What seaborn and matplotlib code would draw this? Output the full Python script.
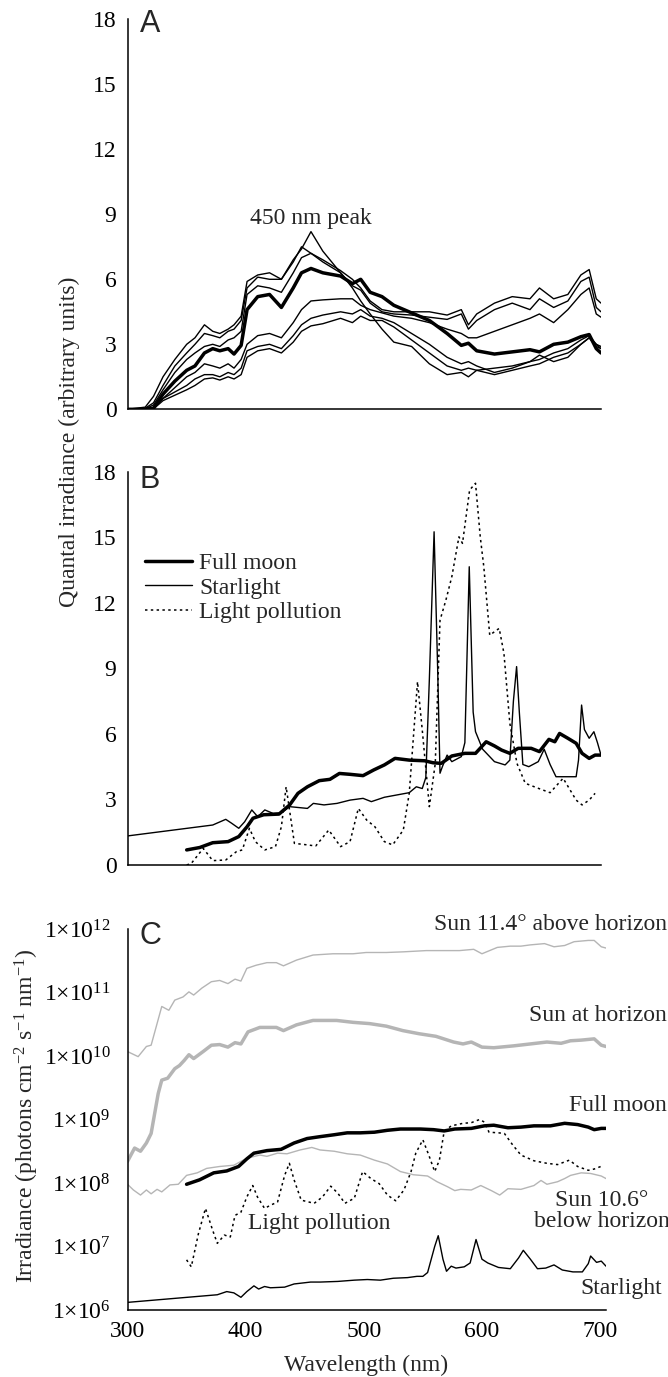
import numpy as np
import matplotlib
matplotlib.use('Agg')
import matplotlib.pyplot as plt
import seaborn as sns

# ---------------- Panel A: spectra (arbitrary units) ----------------
wl_a = [300, 315, 322, 330, 340, 350, 357, 365, 372, 378, 385, 390, 396, 401, 410, 420,
        430, 440, 447, 455, 465, 480, 490, 497, 505, 515, 525, 540, 555, 570, 582, 588,
        595, 610, 625, 640, 648, 660, 672, 683, 690, 696, 700]
mean_a = [0, 0, 0.05, 0.7, 1.3, 1.8, 2.0, 2.6, 2.8, 2.7, 2.8, 2.55, 2.95, 4.6, 5.2, 5.3,
          4.7, 5.6, 6.3, 6.5, 6.3, 6.15, 5.8, 6.0, 5.4, 5.2, 4.8, 4.45, 4.1, 3.5, 2.95, 3.05,
          2.7, 2.55, 2.65, 2.75, 2.65, 3.0, 3.1, 3.35, 3.45, 2.8, 2.6]
curve1_a = [0, 0.1, 0.6, 1.5, 2.3, 3.0, 3.3, 3.9, 3.6, 3.5, 3.7, 3.9, 4.3, 5.9, 6.2, 6.3,
            6.0, 6.9, 7.4, 8.2, 7.3, 6.3, 5.6, 5.0, 4.4, 3.7, 3.1, 2.9, 2.1, 1.6, 1.7, 1.5,
            1.8, 1.9, 2.0, 2.2, 2.5, 2.2, 2.4, 3.0, 3.3, 3.0, 2.9]
curve2_a = [0, 0.05, 0.3, 1.1, 2.0, 2.6, 3.0, 3.5, 3.4, 3.3, 3.6, 3.7, 4.1, 5.6, 6.1, 6.0,
            6.0, 6.8, 7.5, 7.2, 6.9, 6.4, 6.0, 5.6, 5.0, 4.6, 4.5, 4.5, 4.5, 4.35, 4.6, 3.9,
            4.4, 4.9, 5.2, 5.1, 5.6, 5.1, 5.3, 6.2, 6.45, 5.1, 4.9]
curve3_a = [0, 0.02, 0.2, 0.9, 1.7, 2.3, 2.6, 2.9, 3.0, 2.9, 3.2, 3.3, 3.6, 5.3, 5.7, 5.6,
            5.4, 6.3, 7.0, 7.2, 6.8, 6.3, 5.7, 5.5, 4.9, 4.5, 4.4, 4.35, 4.25, 4.15, 4.4, 3.7,
            4.1, 4.6, 4.9, 4.6, 5.1, 4.7, 5.0, 5.9, 6.1, 4.7, 4.5]
curve4_a = [0, 0, 0.05, 0.5, 1.0, 1.5, 1.7, 2.1, 2.0, 1.9, 2.1, 1.9, 2.3, 3.0, 3.4, 3.5,
            3.3, 4.0, 4.6, 5.0, 5.05, 5.1, 5.1, 4.8, 4.6, 4.45, 4.3, 4.2, 4.0, 3.7, 3.5, 3.3,
            3.3, 3.6, 3.9, 4.2, 4.4, 4.0, 4.6, 5.3, 5.6, 4.4, 4.25]
curve5_a = [0, 0, 0.03, 0.5, 0.8, 1.1, 1.4, 1.6, 1.6, 1.5, 1.7, 1.6, 1.9, 2.7, 2.9, 3.0,
            2.8, 3.4, 3.9, 4.2, 4.35, 4.5, 4.4, 4.6, 4.3, 4.2, 4.0, 3.5, 3.0, 2.4, 2.1, 2.2,
            2.0, 1.7, 1.9, 2.2, 2.3, 2.6, 2.8, 3.2, 3.4, 3.0, 2.8]
curve6_a = [0, 0, 0.02, 0.4, 0.65, 0.9, 1.1, 1.4, 1.45, 1.35, 1.5, 1.4, 1.6, 2.4, 2.7, 2.8,
            2.6, 3.1, 3.6, 3.85, 3.95, 4.2, 4.0, 4.3, 4.1, 4.1, 3.8, 3.2, 2.6, 2.0, 1.8, 1.9,
            1.8, 1.6, 1.8, 2.0, 2.1, 2.4, 2.6, 3.0, 3.3, 2.9, 2.8]

# ---------------- Panel B ----------------
moon_b_wl = [350, 361, 372, 385, 394, 401, 406, 415, 428, 437, 444, 452, 462, 471, 479, 488,
             499, 508, 517, 526, 538, 551, 558, 565, 574, 585, 594, 603, 610, 616, 623, 630,
             641, 648, 656, 661, 665, 672, 679, 684, 690, 695, 700]
moon_b = [0.69, 0.8, 1.02, 1.07, 1.3, 1.75, 2.14, 2.3, 2.33, 2.75, 3.28, 3.58, 3.86, 3.92,
          4.19, 4.15, 4.09, 4.35, 4.58, 4.88, 4.8, 4.77, 4.68, 4.65, 4.99, 5.11, 5.11, 5.64,
          5.45, 5.26, 5.11, 5.34, 5.34, 5.19, 5.75, 5.64, 6.02, 5.8, 5.57, 5.11, 4.88, 5.03, 5.03]
star_b_wl = [300, 372, 383, 388, 394, 399, 405, 410, 416, 423, 430, 437, 452, 457, 466, 477,
             488, 499, 506, 517, 527, 538, 544, 549, 552, 555, 559, 562, 564, 566, 570, 574,
             582, 585, 588.7, 592, 594, 600, 610, 619, 623, 626, 628.7, 631, 634, 639, 647,
             652, 657, 662, 679, 681, 683.6, 686, 690, 694, 697, 700]
star_b = [1.33, 1.83, 2.09, 1.91, 1.68, 1.98, 2.52, 2.21, 2.52, 2.36, 2.39, 2.67, 2.59, 2.82,
          2.75, 2.82, 2.97, 3.05, 2.9, 3.1, 3.2, 3.31, 3.58, 3.5, 4.0, 8.5, 15.25, 9.0, 4.2,
          4.5, 5.03, 4.73, 4.96, 5.6, 13.65, 7.0, 6.1, 5.3, 4.73, 4.58, 4.8, 7.5, 9.08, 7.0,
          4.6, 4.5, 4.73, 5.3, 4.6, 4.04, 4.04, 4.8, 7.32, 6.2, 5.8, 6.1, 5.6, 5.03]
lp_b_wl = [350, 354, 364, 372, 383, 392, 397, 403, 408, 416, 425, 430, 434, 441, 452, 459,
           470, 480, 488, 495, 502, 509, 517, 524, 533, 538, 545, 549, 555, 560, 564, 569,
           574, 580, 583, 589, 594, 598, 601, 606, 614, 618, 623, 629, 636, 647, 657, 668,
           679, 684, 690, 695]
lp_b = [0.0, 0.08, 0.76, 0.2, 0.23, 0.61, 0.69, 1.68, 1.07, 0.69, 0.84, 1.75, 3.58, 0.99,
        0.92, 0.87, 1.6, 0.84, 1.07, 2.59, 2.06, 1.75, 1.07, 0.92, 1.6, 3.28, 8.39, 6.18,
        2.67, 4.65, 11.2, 12.13, 13.2, 15.02, 14.72, 17.16, 17.47, 15.02, 13.65, 10.52,
        10.83, 9.69, 6.48, 4.65, 3.74, 3.51, 3.31, 3.97, 2.97, 2.75, 2.97, 3.28]

# ---------------- Panel C (log10 of photons cm-2 s-1 nm-1) ----------------
sun_above_wl = [300, 309, 316, 320, 329, 335, 340, 347, 352, 356, 363, 371, 378, 385, 391,
                396, 401, 409, 418, 426, 432, 443, 457, 474, 491, 502, 519, 533, 553, 570,
                581, 593, 600, 613, 624, 633, 641, 653, 661, 670, 678, 690, 695, 701, 705]
sun_above_log = [10.07, 9.99, 10.15, 10.17, 10.78, 10.72, 10.88, 10.93, 11.01, 10.96, 11.07,
                 11.17, 11.19, 11.14, 11.21, 11.18, 11.38, 11.43, 11.47, 11.47, 11.42, 11.51,
                 11.59, 11.61, 11.61, 11.63, 11.63, 11.64, 11.66, 11.66, 11.66, 11.68, 11.61,
                 11.71, 11.73, 11.73, 11.75, 11.77, 11.72, 11.74, 11.8, 11.82, 11.82, 11.72, 11.7]
sun_hor_wl = [300, 306, 311, 316, 320, 322, 326, 329, 334, 340, 344, 348, 352, 356, 364, 371,
              378, 385, 391, 396, 402, 412, 426, 432, 443, 457, 477, 491, 505, 519, 533, 547,
              561, 576, 584, 591, 600, 610, 627, 641, 655, 667, 675, 684, 695, 701, 705]
sun_hor_log = [8.34, 8.55, 8.5, 8.63, 8.78, 8.99, 9.41, 9.62, 9.65, 9.8, 9.85, 9.93, 10.02,
               9.96, 10.07, 10.17, 10.18, 10.14, 10.21, 10.19, 10.38, 10.45, 10.45, 10.4,
               10.49, 10.56, 10.56, 10.53, 10.51, 10.47, 10.4, 10.35, 10.31, 10.22, 10.19,
               10.22, 10.14, 10.13, 10.16, 10.19, 10.22, 10.2, 10.24, 10.25, 10.27, 10.17, 10.15]
moon_c_wl = [350, 361, 373, 384, 394, 401, 407, 418, 430, 441, 452, 463, 475, 486, 497, 509,
             520, 531, 548, 559, 568, 577, 591, 602, 610, 622, 633, 644, 658, 670, 681, 690,
             695, 701, 705]
moon_c_log = [7.98, 8.05, 8.16, 8.19, 8.26, 8.38, 8.47, 8.51, 8.53, 8.63, 8.7, 8.73, 8.76,
              8.79, 8.79, 8.8, 8.83, 8.85, 8.85, 8.84, 8.82, 8.85, 8.86, 8.9, 8.91, 8.87, 8.88,
              8.9, 8.9, 8.94, 8.92, 8.88, 8.84, 8.86, 8.86]
sun_below_wl = [300, 305, 311, 316, 320, 325, 329, 336, 343, 350, 359, 367, 378, 390, 401,
                412, 418, 427, 435, 446, 456, 463, 475, 486, 497, 509, 520, 531, 542, 554,
                562, 571, 577, 582, 591, 599, 608, 615, 622, 633, 644, 650, 655, 664, 670,
                675, 684, 692, 701, 705]
sun_below_log = [7.98, 7.89, 7.81, 7.89, 7.83, 7.9, 7.86, 7.97, 7.98, 8.12, 8.16, 8.23, 8.26,
                 8.28, 8.39, 8.44, 8.42, 8.47, 8.46, 8.52, 8.56, 8.52, 8.5, 8.46, 8.44, 8.36,
                 8.3, 8.18, 8.13, 8.11, 8.02, 7.94, 7.88, 7.9, 7.89, 7.96, 7.88, 7.81, 7.91,
                 7.9, 7.96, 8.04, 7.98, 8.02, 8.07, 8.12, 8.16, 8.15, 8.11, 8.07]
lp_c_wl = [350, 354, 360, 366, 372, 376, 382, 387, 391, 396, 401, 406, 410, 416, 421, 427,
           433, 437, 441, 447, 458, 465, 472, 478, 484, 492, 499, 506, 513, 520, 527, 534,
           540, 544, 550, 555, 560, 564, 568, 574, 584, 591, 598, 602, 606, 614, 619, 626,
           633, 644, 655, 664, 674, 681, 690, 695, 702]
lp_c_log = [6.79, 6.68, 7.2, 7.6, 7.26, 7.05, 7.18, 7.15, 7.49, 7.54, 7.78, 7.96, 7.78, 7.6,
            7.65, 7.7, 8.12, 8.31, 8.05, 7.73, 7.68, 7.78, 7.95, 7.84, 7.68, 7.76, 8.18, 8.07,
            7.99, 7.81, 7.72, 7.89, 8.18, 8.47, 8.68, 8.44, 8.18, 8.36, 8.81, 8.9, 8.94, 8.95,
            9.0, 8.96, 8.8, 8.79, 8.78, 8.6, 8.44, 8.35, 8.31, 8.29, 8.36, 8.26, 8.2, 8.22, 8.27]
star_c_wl = [300, 376, 384, 390, 396, 401, 407, 411, 416, 421, 433, 441, 455, 463, 478, 492,
             503, 514, 525, 537, 545, 550, 554, 560, 563, 567, 570, 574, 578, 585, 590, 595,
             600, 605, 614, 624, 631, 635, 641, 647, 654, 661, 668, 677, 685, 690, 692, 697,
             701, 705]
star_c_log = [6.12, 6.24, 6.29, 6.27, 6.2, 6.29, 6.38, 6.33, 6.37, 6.35, 6.36, 6.41, 6.44,
              6.44, 6.45, 6.47, 6.48, 6.47, 6.5, 6.51, 6.53, 6.53, 6.59, 7.0, 7.17, 6.8, 6.61,
              6.69, 6.66, 6.68, 6.74, 7.11, 6.8, 6.74, 6.67, 6.65, 6.82, 6.94, 6.8, 6.65, 6.66,
              6.71, 6.63, 6.6, 6.6, 6.73, 6.85, 6.75, 6.77, 6.69]

ab_ticks = [0, 3, 6, 9, 12, 15, 18]
c_xticks = [300, 400, 500, 600, 700]
c_yexp = [6, 7, 8, 9, 10, 11, 12]

# ---------------- style ----------------
sns.set_theme(style="white")
plt.rcParams['font.family'] = ['Liberation Serif', 'DejaVu Serif']
plt.rcParams['mathtext.fontset'] = 'custom'
plt.rcParams['mathtext.rm'] = 'Liberation Serif'
plt.rcParams['mathtext.it'] = 'Liberation Serif:italic'
plt.rcParams['axes.unicode_minus'] = True

FS = 17
GREY = '#b5b5b5'
THIN = 1.0
THICK = 2.5
DOT = (0, (1.6, 2.2))

W, H = 668, 1377
fig = plt.figure(figsize=(W / 100, H / 100), dpi=100)
axA = fig.add_axes([127.5 / W, 1 - 409.3 / H, 473.5 / W, 390 / H])
axB = fig.add_axes([127.5 / W, 1 - 865 / H, 473.5 / W, 393.3 / H])
axC = fig.add_axes([127.5 / W, 1 - 1310 / H, 478.5 / W, 381 / H])


def style_axes(ax, ypad=8):
    for s in ['top', 'right']:
        ax.spines[s].set_visible(False)
    for s in ['left', 'bottom']:
        ax.spines[s].set_color('black')
        ax.spines[s].set_linewidth(1.1)
    ax.tick_params(length=0, labelsize=FS, pad=8, colors='black')
    ax.tick_params(axis='y', pad=ypad)
    ax.grid(False)


# ---- A ----
for c in [curve1_a, curve2_a, curve3_a, curve4_a, curve5_a, curve6_a]:
    sns.lineplot(x=wl_a, y=c, ax=axA, color='black', lw=THIN)
sns.lineplot(x=wl_a, y=mean_a, ax=axA, color='black', lw=THICK)
axA.set_xlim(300, 700)
axA.set_ylim(0, 18)
axA.set_xticks([])
axA.set_yticks(ab_ticks)
style_axes(axA)
axA.text(455, 8.8, '450 nm peak', ha='center', va='center', fontsize=FS)
axA.text(0.026, 0.988, 'A', transform=axA.transAxes, ha='left', va='center',
         fontsize=22, family='Liberation Sans')

# ---- B ----
sns.lineplot(x=moon_b_wl, y=moon_b, ax=axB, color='black', lw=THICK, label='Full moon')
sns.lineplot(x=star_b_wl, y=star_b, ax=axB, color='black', lw=THIN, label='Starlight')
sns.lineplot(x=lp_b_wl, y=lp_b, ax=axB, color='black', lw=1.1, linestyle=DOT,
             label='Light pollution')
axB.set_xlim(300, 700)
axB.set_ylim(0, 18)
axB.set_xticks([])
axB.set_yticks(ab_ticks)
style_axes(axB)
axB.legend(loc='upper left', bbox_to_anchor=(0.037, 0.795), frameon=False, fontsize=FS,
           handlelength=2.0, handletextpad=0.3, labelspacing=0.135, borderpad=0,
           borderaxespad=0)
axB.text(0.026, 0.979, 'B', transform=axB.transAxes, ha='left', va='center',
         fontsize=22, family='Liberation Sans')

# ---- C ----
sns.lineplot(x=sun_above_wl, y=10 ** np.array(sun_above_log), ax=axC, color=GREY, lw=THIN)
sns.lineplot(x=sun_hor_wl, y=10 ** np.array(sun_hor_log), ax=axC, color=GREY, lw=THICK)
sns.lineplot(x=sun_below_wl, y=10 ** np.array(sun_below_log), ax=axC, color=GREY, lw=THIN)
sns.lineplot(x=lp_c_wl, y=10 ** np.array(lp_c_log), ax=axC, color='black', lw=1.1,
             linestyle=DOT)
sns.lineplot(x=moon_c_wl, y=10 ** np.array(moon_c_log), ax=axC, color='black', lw=THICK)
sns.lineplot(x=star_c_wl, y=10 ** np.array(star_c_log), ax=axC, color='black', lw=THIN)
axC.set_yscale('log')
axC.set_xlim(300, 705)
axC.set_ylim(1e6, 1e12)
axC.set_xticks(c_xticks)
axC.set_xticklabels([str(t) for t in c_xticks])
axC.set_yticks([10.0 ** e for e in c_yexp])
axC.set_yticklabels(['1×10$^{%d}$' % e for e in c_yexp])
axC.minorticks_off()
style_axes(axC, ypad=12)
axC.text(0.026, 0.982, 'C', transform=axC.transAxes, ha='left', va='center',
         fontsize=22, family='Liberation Sans')

lab = dict(fontsize=FS, va='center', clip_on=False)
axC.text(756.6, 10 ** 12.07, 'Sun 11.4° above horizon', ha='right', **lab)
axC.text(756.6, 10 ** 10.63, 'Sun at horizon', ha='right', **lab)
axC.text(756.6, 10 ** 9.22, 'Full moon', ha='right', **lab)
axC.text(701.6, 10 ** 7.56, 'Sun 10.6°\nbelow horizon', ha='center', linespacing=1.0, **lab)
axC.text(402, 10 ** 7.37, 'Light pollution', ha='left', **lab)
axC.text(752.4, 10 ** 6.34, 'Starlight', ha='right', **lab)

# axis titles
fig.text(69 / W, 1 - 441.5 / H, 'Quantal irradiance (arbitrary units)', rotation=90,
         ha='center', va='center', fontsize=FS)
fig.text(27 / W, 1 - 1116 / H, 'Irradiance (photons cm$^{-2}$ s$^{-1}$ nm$^{-1}$)',
         rotation=90, ha='center', va='center', fontsize=FS)
fig.text(366 / W, 1 - 1365 / H, 'Wavelength (nm)', ha='center', va='center', fontsize=FS)

fig.savefig('out.png', dpi=100)
